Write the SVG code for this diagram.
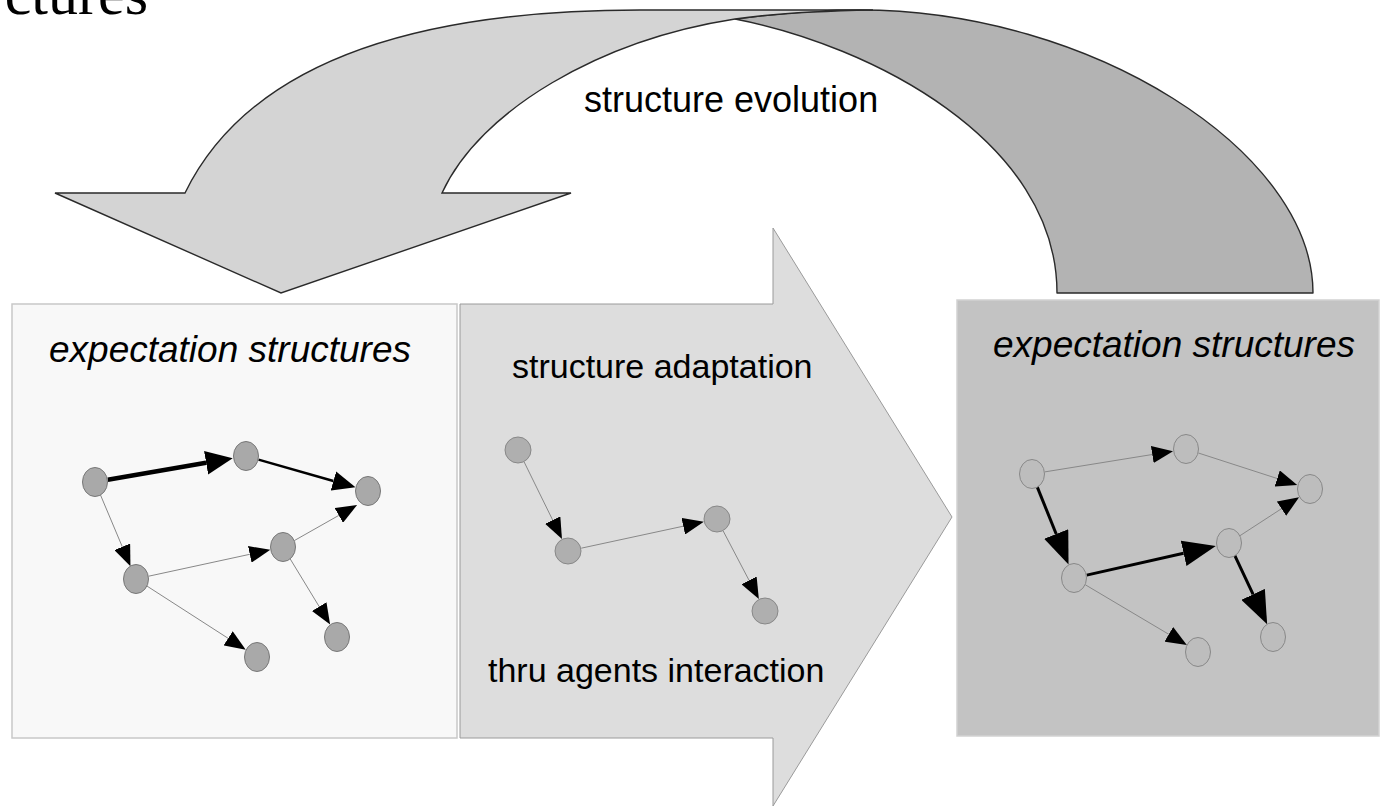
<svg xmlns="http://www.w3.org/2000/svg" width="1384" height="808" viewBox="0 0 1384 808">
  <style>
    .lbl { font-family: "Liberation Sans", Arial, sans-serif; fill: #000; }
    .ital { font-style: italic; font-size: 37px; }
    .mid { font-size: 34px; }
    .nodeL { fill: #a9a9a9; stroke: #777; stroke-width: 1; }
    .nodeM { fill: #afafaf; stroke: #888; stroke-width: 1; }
    .nodeR { fill: #bdbdbd; stroke: #888; stroke-width: 1; }
    .thin { stroke: #888; stroke-width: 1; fill: none; }
    .med { stroke: #000; stroke-width: 2.5; fill: none; }
    .thick { stroke: #000; stroke-width: 4.5; fill: none; }
    .thickR { stroke: #000; stroke-width: 3; fill: none; }
  </style>
  <defs>
    <marker id="ahThin" markerUnits="userSpaceOnUse" markerWidth="21" markerHeight="17" refX="0" refY="8.5" orient="auto">
      <path d="M0,0 L21,8.5 L0,17 Z" fill="#000"/>
    </marker>
    <marker id="ahMed" markerUnits="userSpaceOnUse" markerWidth="23" markerHeight="20" refX="0" refY="10" orient="auto">
      <path d="M0,0 L23,10 L0,20 Z" fill="#000"/>
    </marker>
    <marker id="ahBig" markerUnits="userSpaceOnUse" markerWidth="27" markerHeight="24" refX="0" refY="12" orient="auto">
      <path d="M0,0 L27,12 L0,24 Z" fill="#000"/>
    </marker>
    <marker id="ahBigR" markerUnits="userSpaceOnUse" markerWidth="33" markerHeight="26" refX="0" refY="13" orient="auto">
      <path d="M0,0 L33,13 L0,26 Z" fill="#000"/>
    </marker>
  </defs>

  <rect width="1384" height="808" fill="#ffffff"/>

  <text class="lbl" x="148" y="14" text-anchor="end" style="font-family:'Liberation Serif','Times New Roman',serif;font-size:60px;">ctures</text>

  <!-- structure evolution curved arrow -->
  <g id="evolution-arrow">
    <path d="M735 19 C780 13 820 10 860 10 C1090 10 1313 151 1313 293 L1057 293 C1057 140 870 45 735 19 Z" fill="#b3b3b3" stroke="#2a2a2a" stroke-width="1.4" stroke-linejoin="round"/>
    <path d="M55 193 L185 193 C250 60 420 10 640 10 L873 10 C820 11 775 13 735 19 C600 40 480 110 442 193 L571 193 L281 293 Z" fill="#d4d4d4" stroke="#2a2a2a" stroke-width="1.4" stroke-linejoin="miter"/>
    <text class="lbl" x="584" y="112" style="font-size:36px;">structure evolution</text>
  </g>

  <!-- left box -->
  <g id="box-left">
    <rect x="12" y="304" width="445" height="434" fill="#f8f8f8" stroke="#c8c8c8" stroke-width="1.5"/>
    <text class="lbl ital" x="49" y="362">expectation structures</text>
  </g>

  <!-- middle big arrow -->
  <g id="adaptation-arrow">
    <path d="M460 304 L773 304 L773 228 L952 517 L773 806 L773 738 L460 738 Z" fill="#dddddd" stroke="#9a9a9a" stroke-width="1"/>
    <text class="lbl mid" x="512" y="378">structure adaptation</text>
    <text class="lbl mid" x="488" y="682">thru agents interaction</text>
  </g>

  <!-- right box -->
  <g id="box-right">
    <rect x="957" y="300" width="422" height="436" fill="#c3c3c3" stroke="#d2d2d2" stroke-width="1.5"/>
    <text class="lbl ital" x="993" y="357">expectation structures</text>
  </g>

  <!-- connectors -->
  <g id="connectors">
    <!-- left -->
    <line class="thick" x1="107.8" y1="479.8" x2="206.1" y2="462.8" marker-end="url(#ahBig)"/>
    <line class="med" x1="258.5" y1="459.6" x2="333.4" y2="481" marker-end="url(#ahMed)"/>
    <line class="thin" x1="100.5" y1="495" x2="122.3" y2="546.8" marker-end="url(#ahThin)"/>
    <line class="thin" x1="148.7" y1="576.2" x2="249.8" y2="554.3" marker-end="url(#ahThin)"/>
    <line class="thin" x1="294.3" y1="540.6" x2="338.8" y2="515.4" marker-end="url(#ahThin)"/>
    <line class="thin" x1="289.7" y1="558.1" x2="319.2" y2="606.6" marker-end="url(#ahThin)"/>
    <line class="thin" x1="146.9" y1="586" x2="228.1" y2="638.3" marker-end="url(#ahThin)"/>
    <!-- middle -->
    <line class="thin" x1="524" y1="461.7" x2="552.7" y2="520.1" marker-end="url(#ahThin)"/>
    <line class="thin" x1="581.2" y1="548.2" x2="683.3" y2="526.2" marker-end="url(#ahThin)"/>
    <line class="thin" x1="723.2" y1="531" x2="749.1" y2="580.4" marker-end="url(#ahThin)"/>
    <!-- right -->
    <line class="thin" x1="1044.8" y1="471.9" x2="1152.3" y2="454.5" marker-end="url(#ahThin)"/>
    <line class="thin" x1="1198.4" y1="453" x2="1277.2" y2="478.5" marker-end="url(#ahThin)"/>
    <line class="thickR" x1="1036.9" y1="486.1" x2="1056.2" y2="534" marker-end="url(#ahBigR)"/>
    <line class="thickR" x1="1086.7" y1="575.1" x2="1183.6" y2="553.3" marker-end="url(#ahBigR)"/>
    <line class="thin" x1="1239.8" y1="535.8" x2="1281.5" y2="508.7" marker-end="url(#ahThin)"/>
    <line class="thickR" x1="1234.5" y1="554.8" x2="1253.1" y2="594.4" marker-end="url(#ahBigR)"/>
    <line class="thin" x1="1085.2" y1="584.7" x2="1168.8" y2="634.3" marker-end="url(#ahThin)"/>
  </g>

  <!-- nodes: left -->
  <g id="nL1"><ellipse class="nodeL" cx="95" cy="482" rx="12.5" ry="14.5"/></g>
  <g id="nL2"><ellipse class="nodeL" cx="246" cy="456" rx="12.5" ry="14.5"/></g>
  <g id="nL3"><ellipse class="nodeL" cx="368" cy="491" rx="12.5" ry="14.5"/></g>
  <g id="nL4"><ellipse class="nodeL" cx="283" cy="547" rx="12.5" ry="14.5"/></g>
  <g id="nL5"><ellipse class="nodeL" cx="136" cy="579" rx="12.5" ry="14.5"/></g>
  <g id="nL6"><ellipse class="nodeL" cx="337" cy="637" rx="12.5" ry="14.5"/></g>
  <g id="nL7"><ellipse class="nodeL" cx="257" cy="657" rx="12.5" ry="14.5"/></g>

  <!-- nodes: middle -->
  <g id="nM1"><circle class="nodeM" cx="518" cy="450" r="13"/></g>
  <g id="nM2"><circle class="nodeM" cx="568" cy="551" r="13"/></g>
  <g id="nM3"><circle class="nodeM" cx="717" cy="519" r="13"/></g>
  <g id="nM4"><circle class="nodeM" cx="765" cy="611" r="13"/></g>

  <!-- nodes: right -->
  <g id="nR1"><ellipse class="nodeR" cx="1032" cy="474" rx="12.5" ry="14.5"/></g>
  <g id="nR2"><ellipse class="nodeR" cx="1186" cy="449" rx="12.5" ry="14.5"/></g>
  <g id="nR3"><ellipse class="nodeR" cx="1310" cy="489" rx="12.5" ry="14.5"/></g>
  <g id="nR4"><ellipse class="nodeR" cx="1229" cy="543" rx="12.5" ry="14.5"/></g>
  <g id="nR5"><ellipse class="nodeR" cx="1074" cy="578" rx="12.5" ry="14.5"/></g>
  <g id="nR6"><ellipse class="nodeR" cx="1273" cy="637" rx="12.5" ry="14.5"/></g>
  <g id="nR7"><ellipse class="nodeR" cx="1198" cy="652" rx="12.5" ry="14.5"/></g>
</svg>
